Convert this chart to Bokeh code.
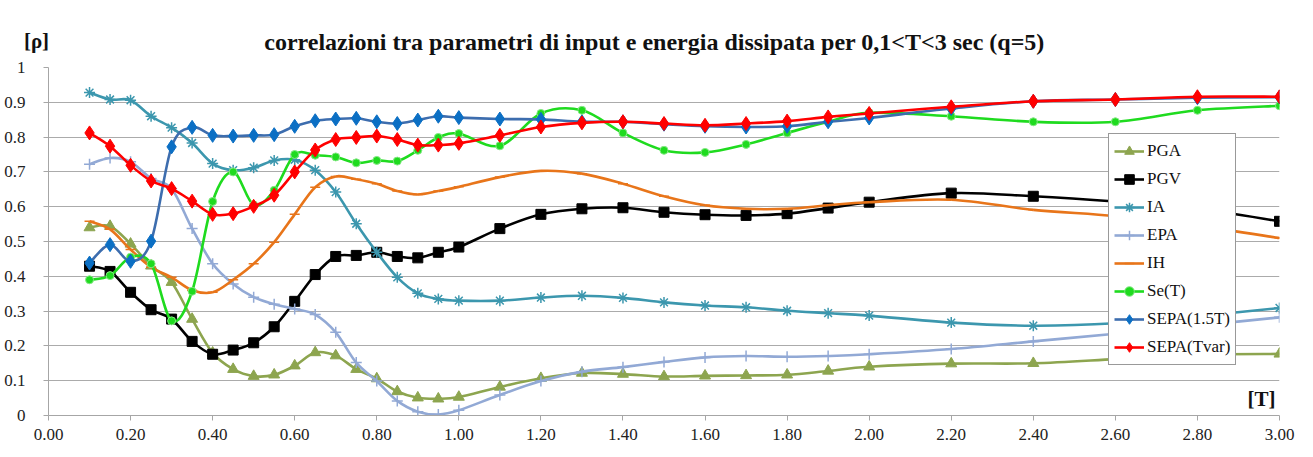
from bokeh.plotting import figure
from bokeh.layouts import column
from bokeh.models import (Range1d, FixedTicker, NumeralTickFormatter, Legend, LegendItem,
                          Label, ColumnDataSource)
from bokeh.embed import file_html
from bokeh.resources import INLINE

T = [0.10, 0.15, 0.20, 0.25, 0.30, 0.35, 0.40, 0.45, 0.50, 0.55, 0.60, 0.65, 0.70, 0.75,
     0.80, 0.85, 0.90, 0.95, 1.00, 1.10, 1.20, 1.30, 1.40, 1.50, 1.60, 1.70, 1.80, 1.90,
     2.00, 2.20, 2.40, 2.60, 2.80, 3.00]

PGA = [0.540, 0.544, 0.493, 0.430, 0.383, 0.277, 0.180, 0.133, 0.113, 0.117, 0.143, 0.181,
       0.172, 0.133, 0.106, 0.069, 0.051, 0.048, 0.053, 0.082, 0.107, 0.122, 0.119, 0.112,
       0.114, 0.115, 0.117, 0.128, 0.140, 0.149, 0.150, 0.162, 0.175, 0.177]
PGV = [0.429, 0.414, 0.354, 0.304, 0.277, 0.213, 0.176, 0.188, 0.209, 0.255, 0.328, 0.405,
       0.457, 0.460, 0.469, 0.457, 0.453, 0.469, 0.484, 0.537, 0.578, 0.594, 0.597, 0.584,
       0.577, 0.575, 0.580, 0.596, 0.613, 0.639, 0.630, 0.615, 0.595, 0.558]
IA = [0.928, 0.908, 0.906, 0.860, 0.827, 0.783, 0.724, 0.705, 0.712, 0.733, 0.735, 0.705,
      0.642, 0.551, 0.469, 0.397, 0.351, 0.335, 0.330, 0.330, 0.339, 0.344, 0.338, 0.325,
      0.316, 0.311, 0.301, 0.294, 0.287, 0.267, 0.258, 0.265, 0.285, 0.309]
EPA = [0.722, 0.740, 0.729, 0.681, 0.652, 0.537, 0.436, 0.378, 0.340, 0.320, 0.306, 0.290,
       0.239, 0.152, 0.099, 0.042, 0.011, 0.003, 0.015, 0.059, 0.099, 0.126, 0.139, 0.154,
       0.167, 0.171, 0.169, 0.171, 0.176, 0.191, 0.213, 0.235, 0.258, 0.282]
IH = [0.558, 0.535, 0.477, 0.426, 0.397, 0.360, 0.354, 0.390, 0.436, 0.498, 0.578, 0.656,
      0.687, 0.679, 0.666, 0.645, 0.635, 0.645, 0.657, 0.685, 0.703, 0.695, 0.666, 0.630,
      0.604, 0.594, 0.594, 0.604, 0.613, 0.620, 0.591, 0.573, 0.545, 0.510]
SE = [0.390, 0.402, 0.455, 0.436, 0.272, 0.357, 0.615, 0.700, 0.605, 0.647, 0.750, 0.748,
      0.743, 0.726, 0.733, 0.731, 0.762, 0.799, 0.810, 0.775, 0.868, 0.877, 0.812, 0.762,
      0.756, 0.779, 0.812, 0.844, 0.870, 0.860, 0.844, 0.844, 0.877, 0.890]
SEPA15 = [0.438, 0.491, 0.443, 0.501, 0.772, 0.828, 0.805, 0.803, 0.805, 0.807, 0.831, 0.847,
          0.852, 0.854, 0.844, 0.839, 0.849, 0.860, 0.856, 0.852, 0.851, 0.844, 0.844, 0.837,
          0.831, 0.829, 0.831, 0.844, 0.855, 0.882, 0.903, 0.908, 0.913, 0.915]
SEPATV = [0.812, 0.774, 0.719, 0.674, 0.652, 0.616, 0.578, 0.580, 0.601, 0.633, 0.700, 0.763,
          0.793, 0.799, 0.803, 0.793, 0.777, 0.777, 0.782, 0.805, 0.829, 0.841, 0.844, 0.839,
          0.834, 0.839, 0.846, 0.858, 0.868, 0.887, 0.903, 0.908, 0.916, 0.916]

X_TICKS = [0.0, 0.2, 0.4, 0.6, 0.8, 1.0, 1.2, 1.4, 1.6, 1.8, 2.0, 2.2, 2.4, 2.6, 2.8, 3.0]
Y_TICKS = [0, 0.1, 0.2, 0.3, 0.4, 0.5, 0.6, 0.7, 0.8, 0.9, 1.0]

TITLE = "correlazioni tra parametri di input e energia dissipata per 0,1<T<3 sec    (q=5)"
Y_TITLE = "[ρ]"
X_TITLE = "[T]"
NAMES = ["PGA", "PGV", "IA", "EPA", "IH", "Se(T)", "SEPA(1.5T)", "SEPA(Tvar)"]
SERIES = [PGA, PGV, IA, EPA, IH, SE, SEPA15, SEPATV]

FONT = "'Liberation Serif', serif"
W = 1313
TOP_H = 55
MAIN_H = 457 - TOP_H

STYLES = [
    dict(color="#8DA54F", marker="triangle", size=11, mfill="#8DA54F", mline="#8DA54F"),
    dict(color="#000000", marker="square", size=10, mfill="#000000", mline="#000000"),
    dict(color="#3C97AE", marker="asterisk", size=11, mfill=None, mline="#3C97AE"),
    dict(color="#92A9D5", marker="cross", size=11, mfill=None, mline="#92A9D5"),
    dict(color="#E8751A", marker="dash", size=10, mfill=None, mline="#E8751A"),
    dict(color="#1FDB1F", marker="circle", size=8, mfill="#1FDB1F", mline="#86E886"),
    dict(color="#3D6DAE", marker="diamond", size=14, mfill="#0B6FC4", mline="#0B6FC4"),
    dict(color="#FF0000", marker="diamond", size=14, mfill="#FF0000", mline="#FF0000"),
]


def bezier_source(xs, ys):
    n = len(xs)
    d = dict(x0=[], y0=[], x1=[], y1=[], cx0=[], cy0=[], cx1=[], cy1=[])
    for i in range(n - 1):
        pm = max(i - 1, 0)
        pp = min(i + 2, n - 1)
        d["x0"].append(xs[i]); d["y0"].append(ys[i])
        d["x1"].append(xs[i + 1]); d["y1"].append(ys[i + 1])
        d["cx0"].append(xs[i] + (xs[i + 1] - xs[pm]) / 6.0)
        d["cy0"].append(ys[i] + (ys[i + 1] - ys[pm]) / 6.0)
        d["cx1"].append(xs[i + 1] - (xs[pp] - xs[i]) / 6.0)
        d["cy1"].append(ys[i + 1] - (ys[pp] - ys[i]) / 6.0)
    return ColumnDataSource(d)


# ---- header strip (title and y-axis unit) ----
top = figure(width=W, height=TOP_H, output_backend="svg", toolbar_location=None,
             x_range=Range1d(0, W), y_range=Range1d(TOP_H, 0),
             x_axis_type=None, y_axis_type=None, min_border=0)
top.frame_align = False
top.outline_line_color = None
top.grid.visible = False
top.background_fill_color = "white"
top.border_fill_color = "white"
top.add_layout(Label(x=663, y=41, text=TITLE, text_align="center", text_baseline="alphabetic",
                     text_font=FONT, text_font_style="bold", text_font_size="24px",
                     text_color="#111111"))
top.add_layout(Label(x=36, y=40, text=Y_TITLE, text_align="center", text_baseline="alphabetic",
                     text_font=FONT, text_font_style="bold", text_font_size="21px",
                     text_color="#111111"))

# ---- main chart ----
p = figure(width=W, height=MAIN_H, output_backend="svg", toolbar_location=None,
           x_range=Range1d(0, 3), y_range=Range1d(0, 1),
           min_border_left=48, min_border_right=34, min_border_top=67 - TOP_H,
           min_border_bottom=42)
p.frame_align = False
p.outline_line_color = None
p.background_fill_color = "white"
p.border_fill_color = "white"

p.xgrid.grid_line_color = None
p.ygrid.grid_line_color = "#ABABAB"
p.ygrid.grid_line_width = 1
p.ygrid.ticker = FixedTicker(ticks=Y_TICKS)

p.xaxis.ticker = FixedTicker(ticks=X_TICKS)
p.yaxis.ticker = FixedTicker(ticks=Y_TICKS)
p.xaxis.formatter = NumeralTickFormatter(format="0.00")
p.yaxis.formatter = NumeralTickFormatter(format="0.[0]")
for ax in (p.xaxis, p.yaxis):
    ax.axis_line_color = "#A6A6A6"
    ax.axis_line_width = 1
    ax.major_tick_line_color = "#A6A6A6"
    ax.major_tick_out = 5
    ax.major_tick_in = 0
    ax.minor_tick_line_color = None
    ax.major_label_text_font = FONT
    ax.major_label_text_font_size = "17px"
    ax.major_label_text_color = "#222222"
p.xaxis.major_label_standoff = 8
p.yaxis.major_label_standoff = 18

items = []
for name, ys, st in zip(NAMES, SERIES, STYLES):
    src = bezier_source(T, ys)
    p.bezier(x0="x0", y0="y0", x1="x1", y1="y1", cx0="cx0", cy0="cy0", cx1="cx1", cy1="cy1",
             source=src, line_color=st["color"], line_width=2.6)
    leg_line = p.line(x=[T[0], T[0]], y=[ys[0], ys[0]], line_color=st["color"], line_width=2.6)
    sc = p.scatter(x=T, y=ys, marker=st["marker"], size=st["size"],
                   fill_color=st["mfill"], line_color=st["mline"],
                   line_width=1.5 if st["mfill"] is None else 1)
    items.append(LegendItem(label=name, renderers=[leg_line, sc]))

legend = Legend(items=items, location=(1060, 50))
legend.label_text_font = FONT
legend.label_text_font_size = "17px"
legend.label_text_color = "#111111"
legend.border_line_color = "#333333"
legend.border_line_width = 1
legend.background_fill_color = "white"
legend.background_fill_alpha = 1
legend.glyph_width = 30
legend.glyph_height = 24
legend.label_height = 24
legend.spacing = 4
legend.padding = 5
legend.margin = 0
legend.label_standoff = 3
p.add_layout(legend, "center")

p.add_layout(Label(x=2.99, y=0.012, text=X_TITLE, text_align="right", text_baseline="bottom",
                   text_font=FONT, text_font_style="bold", text_font_size="21px",
                   text_color="#111111"))

layout = column(top, p, spacing=0)
open("out.html", "w").write(file_html(layout, INLINE))
